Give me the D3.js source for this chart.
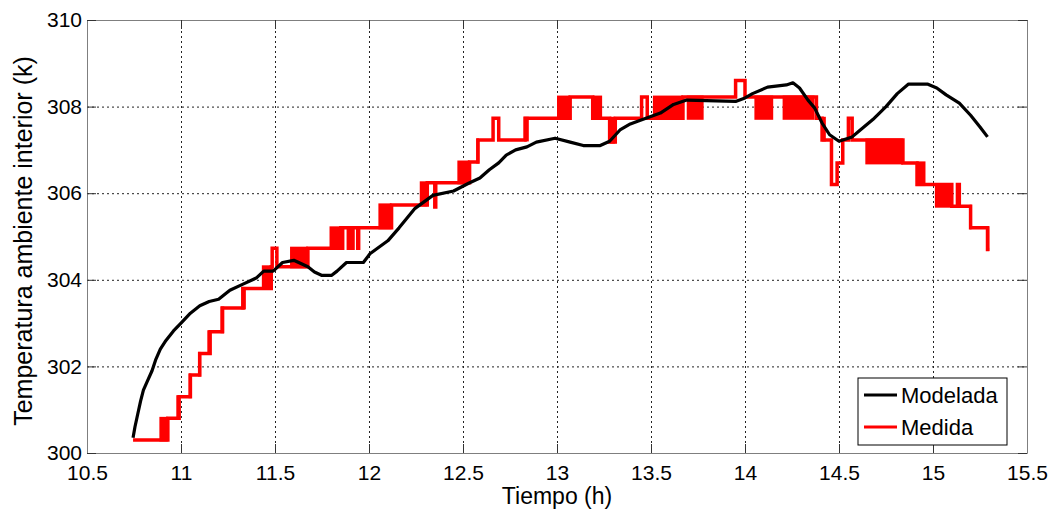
<!DOCTYPE html>
<html>
<head>
<meta charset="utf-8">
<script src="https://cdn.jsdelivr.net/npm/d3@7"></script>
<style>
  body { margin: 0; background: #fff; }
  svg { display: block; font-family: "Liberation Sans", Arial, sans-serif; }
</style>
</head>
<body>
<svg id="canvas"></svg>
<script>
// Modelada (black) : [tiempo h, temperatura K]
let modelada = [
  [10.745, 300.35], [10.755, 300.6], [10.77, 300.9], [10.785, 301.2], [10.8, 301.45],
  [10.82, 301.65], [10.846, 301.9], [10.865, 302.15], [10.89, 302.4], [10.92, 302.6],
  [10.96, 302.82], [11.0, 303.0], [11.05, 303.23], [11.1, 303.4], [11.15, 303.5],
  [11.2, 303.55], [11.26, 303.76], [11.33, 303.9], [11.4, 304.04], [11.44, 304.2],
  [11.49, 304.2], [11.54, 304.4], [11.6, 304.45], [11.675, 304.3], [11.71, 304.18],
  [11.75, 304.1], [11.8, 304.1], [11.83, 304.2], [11.88, 304.4], [11.97, 304.4],
  [12.005, 304.6], [12.1, 304.9], [12.16, 305.2], [12.245, 305.65], [12.34, 305.95],
  [12.45, 306.05], [12.53, 306.23], [12.59, 306.35], [12.64, 306.54], [12.69, 306.7],
  [12.73, 306.88], [12.78, 307.0], [12.84, 307.07], [12.89, 307.18], [12.99, 307.27],
  [13.07, 307.18], [13.14, 307.1], [13.23, 307.1], [13.28, 307.2], [13.335, 307.46],
  [13.39, 307.6], [13.44, 307.68], [13.55, 307.85], [13.62, 308.05], [13.69, 308.15],
  [13.95, 308.12], [14.0, 308.2], [14.04, 308.3], [14.12, 308.45], [14.22, 308.5],
  [14.255, 308.55], [14.29, 308.43], [14.335, 308.15], [14.37, 307.97], [14.41, 307.62],
  [14.45, 307.35], [14.5, 307.2], [14.57, 307.3], [14.61, 307.45], [14.68, 307.7],
  [14.75, 308.0], [14.81, 308.3], [14.87, 308.52], [14.97, 308.52], [15.02, 308.43],
  [15.07, 308.27], [15.14, 308.08], [15.2, 307.8], [15.25, 307.53], [15.29, 307.3]
];

// Medida (red) : step values [tiempo h, temperatura K], held until next point
let medida = [
  [10.745, 300.3], [10.93, 300.8], [10.99, 301.3], [11.05, 301.8], [11.1, 302.3],
  [11.155, 302.8], [11.22, 303.35], [11.33, 303.8], [11.48, 304.3], [11.485, 304.73],
  [11.51, 304.3], [11.675, 304.73], [11.85, 305.2],
  [11.855, 304.73], [11.86, 305.2], [11.89, 304.73], [11.895, 305.2],
  [11.91, 304.73], [11.915, 305.2], [11.94, 304.73], [11.945, 305.2],
  [12.12, 305.73], [12.31, 306.24], [12.35, 305.68], [12.355, 306.24],
  [12.535, 306.72], [12.58, 307.23], [12.66, 307.73], [12.69, 307.23],
  [12.83, 307.73], [13.07, 308.22], [13.19, 307.73], [13.28, 307.18], [13.31, 307.73],
  [13.45, 308.22], [13.48, 307.73], [13.67, 308.22], [13.95, 308.6], [14.0, 308.22],
  [14.38, 307.73], [14.41, 307.23], [14.46, 306.2], [14.49, 306.7], [14.52, 307.23],
  [14.55, 307.73], [14.57, 307.23], [14.84, 306.7], [14.915, 306.2], [15.1, 305.7],
  [15.13, 306.2], [15.14, 305.7], [15.2, 305.2], [15.29, 304.7], [15.3, 304.7]
];

// Medida: stretches where the sensor flickers between two levels [t0, t1, low, high]
let medidaOscila = [
  [10.885, 10.93, 300.3, 300.8], [10.975, 10.995, 300.8, 301.3], [11.04, 11.055, 301.3, 301.8],
  [11.09, 11.105, 301.8, 302.3], [11.14, 11.16, 302.3, 302.8], [11.21, 11.23, 302.8, 303.35],
  [11.32, 11.345, 303.35, 303.8], [11.43, 11.48, 303.8, 304.3], [11.58, 11.675, 304.3, 304.73],
  [11.79, 11.85, 304.73, 305.2], [12.05, 12.12, 305.2, 305.73], [12.27, 12.31, 305.73, 306.24],
  [12.47, 12.535, 306.24, 306.72], [12.57, 12.585, 306.72, 307.23], [12.825, 12.85, 307.23, 307.73],
  [13.0, 13.07, 307.73, 308.22], [13.19, 13.24, 307.73, 308.22], [13.28, 13.31, 307.18, 307.73],
  [13.51, 13.67, 307.73, 308.22], [13.69, 13.78, 307.73, 308.22], [14.05, 14.15, 307.73, 308.22],
  [14.2, 14.37, 307.73, 308.22], [14.41, 14.43, 307.23, 307.73], [14.64, 14.84, 306.7, 307.23],
  [14.91, 14.96, 306.2, 306.7], [15.01, 15.1, 305.7, 306.2], [15.195, 15.205, 305.2, 305.7],
  [15.285, 15.3, 304.7, 305.2]
];

let xTicks = [10.5, 11, 11.5, 12, 12.5, 13, 13.5, 14, 14.5, 15, 15.5];
let yTicks = [300, 302, 304, 306, 308, 310];
let series = ["Modelada", "Medida"];
let colors = ["#000000", "#ff0000"];

let width = 1060;
let height = 514;
let margin = { top: 20, right: 33, bottom: 61, left: 87 };

let canvas = d3.select("#canvas").attr("width", width).attr("height", height);

let xScale = d3.scaleLinear().domain([10.5, 15.5]).range([margin.left, width - margin.right]);
let yScale = d3.scaleLinear().domain([300, 310]).range([height - margin.bottom, margin.top]);

let plotW = width - margin.left - margin.right;
let plotH = height - margin.top - margin.bottom;

// grid
canvas.append("g")
  .attr("transform", "translate(0," + (height - margin.bottom) + ")")
  .call(d3.axisBottom(xScale).tickValues(xTicks.slice(1, -1)).tickSize(-plotH).tickFormat(""))
  .call((g) => g.select(".domain").remove())
  .selectAll("line").attr("stroke", "#222").attr("stroke-dasharray", "2,3");
canvas.append("g")
  .attr("transform", "translate(" + margin.left + ",0)")
  .call(d3.axisLeft(yScale).tickValues(yTicks.slice(1, -1)).tickSize(-plotW).tickFormat(""))
  .call((g) => g.select(".domain").remove())
  .selectAll("line").attr("stroke", "#222").attr("stroke-dasharray", "2,3");

// medida
let plot = canvas.append("g");
plot.selectAll("rect.osc")
  .data(medidaOscila)
  .enter()
  .append("rect")
  .attr("class", "osc")
  .attr("x", (d) => xScale(d[0]))
  .attr("width", (d) => xScale(d[1]) - xScale(d[0]))
  .attr("y", (d) => yScale(d[3]) - 1.5)
  .attr("height", (d) => yScale(d[2]) - yScale(d[3]) + 3)
  .attr("fill", colors[1]);

plot.append("path")
  .datum(medida)
  .attr("fill", "none")
  .attr("stroke", colors[1])
  .attr("stroke-width", 3.5)
  .attr("d", d3.line().x((d) => xScale(d[0])).y((d) => yScale(d[1])).curve(d3.curveStepAfter));

plot.append("path")
  .datum(modelada)
  .attr("fill", "none")
  .attr("stroke", colors[0])
  .attr("stroke-width", 3.2)
  .attr("stroke-linejoin", "round")
  .attr("d", d3.line().x((d) => xScale(d[0])).y((d) => yScale(d[1])));

// axes box with inner ticks
let styleAxis = (g) => {
  g.select(".domain").attr("stroke", "#7f7f7f");
  g.selectAll(".tick line").attr("stroke", "#333");
  g.selectAll("text").attr("fill", "#000").style("font-size", "21px");
};
canvas.append("g")
  .attr("transform", "translate(0," + (height - margin.bottom) + ")")
  .call(d3.axisBottom(xScale).tickValues(xTicks).tickSizeInner(-9).tickSizeOuter(0).tickPadding(12).tickFormat(d3.format("")))
  .call(styleAxis);
canvas.append("g")
  .attr("transform", "translate(0," + margin.top + ")")
  .call(d3.axisTop(xScale).tickValues(xTicks).tickSizeInner(-9).tickSizeOuter(0).tickFormat(""))
  .call(styleAxis);
canvas.append("g")
  .attr("transform", "translate(" + margin.left + ",0)")
  .call(d3.axisLeft(yScale).tickValues(yTicks).tickSizeInner(-9).tickSizeOuter(0).tickPadding(5).tickFormat(d3.format("d")))
  .call(styleAxis);
canvas.append("g")
  .attr("transform", "translate(" + (width - margin.right) + ",0)")
  .call(d3.axisRight(yScale).tickValues(yTicks).tickSizeInner(-9).tickSizeOuter(0).tickFormat(""))
  .call(styleAxis);

// axis titles
canvas.append("text")
  .attr("x", margin.left + plotW / 2)
  .attr("y", 504)
  .attr("text-anchor", "middle")
  .style("font-size", "23px")
  .text("Tiempo (h)");
canvas.append("text")
  .attr("transform", "translate(32,241) rotate(-90)")
  .attr("text-anchor", "middle")
  .style("font-size", "25px")
  .text("Temperatura ambiente interior (k)");

// legend
let legend = canvas.append("g").attr("transform", "translate(858,378)");
legend.append("rect")
  .attr("width", 149).attr("height", 67)
  .attr("fill", "#fff").attr("stroke", "#000").attr("stroke-width", 1);
series.forEach((name, i) => {
  let y = 17 + i * 32;
  legend.append("line")
    .attr("x1", 6).attr("x2", 39).attr("y1", y).attr("y2", y)
    .attr("stroke", colors[i]).attr("stroke-width", 3);
  legend.append("text")
    .attr("x", 43).attr("y", y + 8)
    .style("font-size", "22px")
    .text(name);
});
</script>
</body>
</html>
